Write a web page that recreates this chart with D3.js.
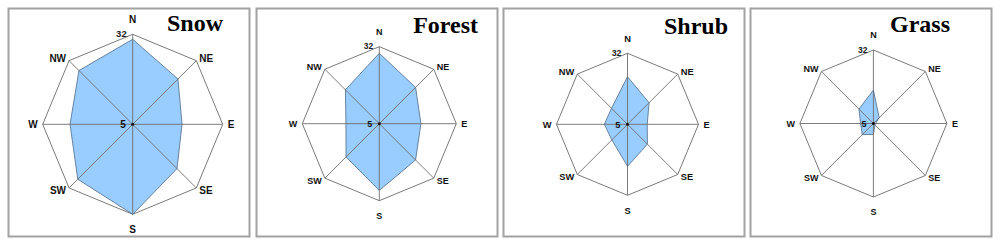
<!DOCTYPE html>
<html>
<head>
<meta charset="utf-8">
<script src="https://cdn.jsdelivr.net/npm/d3@7"></script>
<style>
  html, body { margin: 0; padding: 0; background: #fff; }
  svg { display: block; }
</style>
</head>
<body>
<svg id="chart" width="1000" height="245"></svg>
<script>
// ---- data ----
const directions = ["N", "NE", "E", "SE", "S", "SW", "W", "NW"];
const panelTitles = ["Snow", "Forest", "Shrub", "Grass"];
const snowValues   = [30.5, 24.2, 19.8, 23.8, 32.0, 28.3, 23.8, 27.8];
const forestValues = [29.7, 23.0, 19.6, 23.0, 28.4, 21.5, 16.7, 21.8];
const shrubValues  = [23.1, 16.6, 12.5, 15.7, 21.0, 13.4, 13.8, 13.6];
const grassValues  = [17.3, 8.0, 5.8, 5.8, 9.0, 10.8, 9.7, 12.5];
const radialDomain = [5, 32];
const radialTickLabels = ["5", "32"];

// ---- layout (positions only) ----
const layout = [
  { x: 8,   cx: 132.7, cy: 124.3, R: 90,   titleX: 223, titleY: 31, lab: 10 },
  { x: 256, cx: 379.3, cy: 123.7, R: 77,   titleX: 478, titleY: 33, lab: 9 },
  { x: 503, cx: 627.5, cy: 124.3, R: 71,   titleX: 728, titleY: 34, lab: 9.3 },
  { x: 750, cx: 873.4, cy: 123.5, R: 73.5, titleX: 950, titleY: 32, lab: 9 }
];
const panelY = 8, panelW = 241, panelH = 228;
const seriesList = [snowValues, forestValues, shrubValues, grassValues];

const svg = d3.select("#chart");
const angle = d3.scalePoint().domain(directions).range([0, 2 * Math.PI * 7 / 8]);

seriesList.forEach((vals, p) => {
  const L = layout[p];
  const g = svg.append("g");
  g.append("rect")
    .attr("x", L.x + 0.5).attr("y", panelY + 0.5)
    .attr("width", panelW).attr("height", panelH)
    .attr("fill", "#fff").attr("stroke", "#a2a2a2").attr("stroke-width", 2);

  const r = d3.scaleLinear().domain(radialDomain).range([0, L.R]);
  const pt = (d, v) => {
    const a = angle(d);
    return [L.cx + r(v) * Math.sin(a), L.cy - r(v) * Math.cos(a)];
  };

  // outer octagon
  const outer = directions.map(d => pt(d, radialDomain[1]));
  g.append("path")
    .attr("d", d3.line()(outer) + "Z")
    .attr("fill", "none").attr("stroke", "#7a7a7a").attr("stroke-width", 1);

  // data polygon
  const poly = directions.map((d, i) => pt(d, vals[i]));
  g.append("path")
    .attr("d", d3.line()(poly) + "Z")
    .attr("fill", "#99ccff").attr("stroke", "#5c7894").attr("stroke-width", 0.9);

  // spokes
  directions.forEach(d => {
    const [x2, y2] = pt(d, radialDomain[1]);
    g.append("line")
      .attr("x1", L.cx).attr("y1", L.cy).attr("x2", x2).attr("y2", y2)
      .attr("stroke", "#6e6e6e").attr("stroke-width", 0.9);
  });
  g.append("circle").attr("cx", L.cx).attr("cy", L.cy).attr("r", 1.5).attr("fill", "#111");

  // direction labels
  directions.forEach(d => {
    const a = angle(d);
    const s = Math.sin(a), c = Math.cos(a);
    const [vx, vy] = pt(d, radialDomain[1]);
    let x = vx, y = vy, anchor = "middle";
    if (Math.abs(s) < 0.01) {
      y = vy - c * 15;
    } else if (Math.abs(c) < 0.01) {
      x = vx + s * 5; anchor = s > 0 ? "start" : "end";
    } else {
      x = vx + (s > 0 ? 3 : -3); y = vy - c * 3.5; anchor = s > 0 ? "start" : "end";
    }
    g.append("text")
      .attr("x", x).attr("y", y)
      .attr("dy", "0.36em")
      .attr("text-anchor", anchor)
      .attr("font-family", "Liberation Sans, Arial, sans-serif")
      .attr("font-weight", "bold")
      .attr("font-size", L.lab)
      .attr("fill", "#111")
      .text(d);
  });

  // radial tick labels
  const [nx, ny] = pt("N", radialDomain[1]);
  g.append("text")
    .attr("x", nx - 6).attr("y", ny + 2.5)
    .attr("text-anchor", "end")
    .attr("font-family", "Liberation Sans, Arial, sans-serif")
    .attr("font-size", L.lab - 0.5).attr("font-weight", "bold").attr("fill", "#222")
    .text(radialTickLabels[1]);
  g.append("text")
    .attr("x", L.cx - 7).attr("y", L.cy)
    .attr("dy", "0.36em")
    .attr("text-anchor", "end")
    .attr("font-family", "Liberation Sans, Arial, sans-serif")
    .attr("font-size", L.lab).attr("font-weight", "bold").attr("fill", "#111")
    .text(radialTickLabels[0]);

  // title
  g.append("text")
    .attr("x", L.titleX).attr("y", L.titleY)
    .attr("text-anchor", "end")
    .attr("font-family", "Liberation Serif, Times New Roman, serif")
    .attr("font-weight", "bold")
    .attr("font-size", 24)
    .attr("fill", "#000")
    .text(panelTitles[p]);
});
</script>
</body>
</html>
